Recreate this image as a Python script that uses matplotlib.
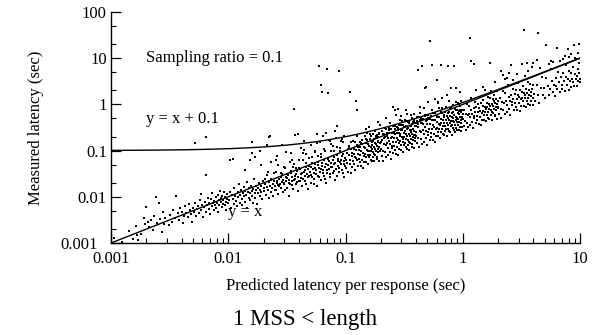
"""Measured vs predicted latency scatter (sampling ratio 0.1, 1 MSS < length)."""

import matplotlib
matplotlib.use("Agg")
import matplotlib.pyplot as plt
import matplotlib.transforms as mtransforms
import numpy as np
from matplotlib.ticker import LogLocator, NullFormatter, FixedLocator, FixedFormatter

plt.rcParams["font.family"] = ["Liberation Serif", "DejaVu Serif"]

# (predicted, measured) latency in seconds
pts_1ms = [
    (0.00107, 0.00126), (0.00125, 0.00105), (0.00141, 0.00184), (0.00155, 0.0012),
    (0.00163, 0.0023), (0.00167, 0.0015), (0.00171, 0.00118), (0.0018, 0.0016),
    (0.0019, 0.0034), (0.00195, 0.0026), (0.002, 0.0061), (0.00208, 0.0029),
    (0.00212, 0.0022), (0.0022, 0.0031), (0.00228, 0.0019), (0.00234, 0.0038),
    (0.00242, 0.0100), (0.00248, 0.0027), (0.00256, 0.0072), (0.00262, 0.0033),
    (0.00274, 0.00176), (0.0028, 0.0047), (0.00285, 0.0026), (0.0029, 0.0035),
    (0.0031, 0.0024), (0.0032, 0.0041), (0.0033, 0.0029), (0.0034, 0.0052),
    (0.0035, 0.0034), (0.0036, 0.0104), (0.0037, 0.0044), (0.0038, 0.0031),
    (0.0039, 0.0057), (0.004, 0.0048), (0.0041, 0.0027), (0.0042, 0.0039),
    (0.0043, 0.0062), (0.0044, 0.0045), (0.0045, 0.0036), (0.0046, 0.0069),
    (0.0047, 0.0051), (0.0048, 0.0042), (0.0049, 0.0028), (0.005, 0.0058),
    (0.0051, 0.0047), (0.0052, 0.0075), (0.0053, 0.0039), (0.0054, 0.0054),
    (0.0055, 0.0063), (0.0056, 0.0044), (0.0057, 0.0085), (0.0058, 0.0114),
    (0.0059, 0.0052), (0.006, 0.0068), (0.0061, 0.0036), (0.0062, 0.0059),
    (0.0063, 0.0079), (0.0064, 0.0048), (0.0065, 0.029), (0.0066, 0.0066),
    (0.0067, 0.0095), (0.0068, 0.0055), (0.0069, 0.0072), (0.007, 0.0042),
    (0.0071, 0.0088), (0.0072, 0.0063), (0.0073, 0.012), (0.0074, 0.0075),
    (0.0075, 0.0053), (0.0076, 0.0081), (0.0077, 0.0068), (0.0078, 0.0098),
    (0.0079, 0.0058), (0.008, 0.0074), (0.0081, 0.011), (0.0082, 0.0047),
    (0.0083, 0.0086), (0.0084, 0.0066), (0.0085, 0.0135), (0.0086, 0.0077),
    (0.0087, 0.0092), (0.0088, 0.0059), (0.0089, 0.0105), (0.009, 0.0071),
    (0.0091, 0.0084), (0.0092, 0.0125), (0.0093, 0.0065), (0.0094, 0.0098),
    (0.0095, 0.0079), (0.0096, 0.0052), (0.0097, 0.0115), (0.0098, 0.0088),
    (0.0099, 0.0074),
]

pts_10ms = [
    (0.0102, 0.0085), (0.0104, 0.013), (0.0106, 0.0058), (0.0108, 0.0112),
    (0.011, 0.0091), (0.0112, 0.0071), (0.0113, 0.0155), (0.0115, 0.0104),
    (0.0117, 0.0082), (0.0118, 0.0062), (0.012, 0.0125), (0.0122, 0.0097),
    (0.0123, 0.0188), (0.0125, 0.0074), (0.0127, 0.011), (0.0128, 0.0142),
    (0.013, 0.0088), (0.0132, 0.0068), (0.0133, 0.0121), (0.0135, 0.0165),
    (0.0137, 0.0102), (0.0138, 0.0079), (0.014, 0.0135), (0.0142, 0.0112),
    (0.0144, 0.0058), (0.0145, 0.0205), (0.0147, 0.0125), (0.0149, 0.0094),
    (0.015, 0.0152), (0.0152, 0.0118), (0.0154, 0.0085), (0.0156, 0.0174),
    (0.0158, 0.0132), (0.016, 0.0105), (0.0162, 0.0075), (0.0164, 0.0145),
    (0.0166, 0.0245), (0.0168, 0.0122), (0.017, 0.0095), (0.0172, 0.0168),
    (0.0174, 0.0138), (0.0176, 0.0071), (0.0178, 0.0155), (0.018, 0.0118),
    (0.0182, 0.0198), (0.0185, 0.0142), (0.0187, 0.0102), (0.019, 0.0175),
    (0.0192, 0.0128), (0.0195, 0.0088), (0.0197, 0.0225), (0.02, 0.0158),
    (0.0203, 0.0135), (0.0206, 0.0185), (0.0209, 0.0112), (0.0212, 0.0295),
    (0.0215, 0.0165), (0.0218, 0.0142), (0.0221, 0.0092), (0.0224, 0.0205),
    (0.0227, 0.0172), (0.023, 0.0125), (0.0233, 0.0235), (0.0236, 0.0155),
    (0.024, 0.0188), (0.0243, 0.0105), (0.0246, 0.0215), (0.025, 0.0168),
    (0.0253, 0.0138), (0.0257, 0.0345), (0.026, 0.0198), (0.0264, 0.0178),
    (0.0268, 0.0115), (0.0271, 0.0245), (0.0275, 0.0192), (0.0279, 0.0152),
    (0.0283, 0.0275), (0.0287, 0.0208), (0.0291, 0.0128), (0.0295, 0.0232),
    (0.03, 0.0185), (0.0304, 0.0412), (0.0308, 0.0262), (0.0313, 0.0215),
    (0.0317, 0.0158), (0.0322, 0.0298), (0.0327, 0.0235), (0.0332, 0.0105),
    (0.0337, 0.0192), (0.0342, 0.0335), (0.0347, 0.0262), (0.0352, 0.0215),
    (0.0357, 0.0148), (0.0362, 0.0525), (0.0368, 0.0288), (0.0373, 0.0242),
    (0.0379, 0.0185), (0.0385, 0.0365), (0.039, 0.0272), (0.0396, 0.0135),
    (0.0402, 0.0225), (0.0408, 0.0395), (0.0414, 0.0305), (0.0421, 0.0258),
    (0.0427, 0.0168), (0.0433, 0.0612), (0.044, 0.0338), (0.0447, 0.0285),
    (0.0453, 0.0215), (0.046, 0.0432), (0.0467, 0.0318), (0.0474, 0.0145),
    (0.0481, 0.0262), (0.0489, 0.0475), (0.0496, 0.0352), (0.0504, 0.0298),
    (0.0511, 0.0198), (0.0519, 0.0725), (0.0527, 0.0392), (0.0535, 0.0325),
    (0.0543, 0.0242), (0.0551, 0.0512), (0.056, 0.0372), (0.0568, 0.0172),
    (0.0577, 0.0285), (0.0586, 0.0565), (0.0595, 0.0415), (0.0604, 0.0345),
    (0.0613, 0.0232), (0.0622, 0.0845), (0.0632, 0.0465), (0.0641, 0.0378),
    (0.0651, 0.0285), (0.0661, 0.0615), (0.0671, 0.0432), (0.0681, 0.0198),
    (0.0692, 0.0335), (0.0702, 0.0672), (0.0713, 0.0495), (0.0724, 0.0405),
    (0.0735, 0.0268), (0.0746, 0.0985), (0.0757, 0.0545), (0.0769, 0.0442),
    (0.0781, 0.0325), (0.0793, 0.0735), (0.0805, 0.0515), (0.0817, 0.0232),
    (0.0829, 0.0392), (0.0842, 0.0805), (0.0855, 0.0585), (0.0868, 0.0475),
    (0.0881, 0.0345), (0.0895, 0.112), (0.0908, 0.0635), (0.0922, 0.0512),
    (0.0936, 0.0375), (0.0951, 0.0865), (0.0965, 0.0605), (0.098, 0.0272),
    (0.0995, 0.0455),
    (0.0251, 0.0142), (0.0262, 0.0225), (0.0273, 0.0168), (0.0285, 0.0305),
    (0.0296, 0.0198), (0.0306, 0.0142), (0.0318, 0.0255), (0.0329, 0.0195),
    (0.034, 0.0365), (0.0351, 0.0182), (0.0363, 0.0235), (0.0375, 0.0312),
    (0.0387, 0.0205), (0.0399, 0.0425), (0.0411, 0.0218), (0.0424, 0.0335),
    (0.0437, 0.0245), (0.045, 0.0372), (0.0463, 0.0185), (0.0477, 0.0395),
    (0.0491, 0.0282), (0.0506, 0.0452), (0.052, 0.0265), (0.0535, 0.0188),
    (0.055, 0.0425), (0.0565, 0.0315), (0.0581, 0.0498), (0.0597, 0.0268),
    (0.0614, 0.0405), (0.063, 0.0545), (0.0647, 0.0325), (0.0665, 0.0242),
    (0.0683, 0.0525), (0.0701, 0.0372), (0.0719, 0.0605), (0.0738, 0.0315),
    (0.0757, 0.0442), (0.0777, 0.0628), (0.0797, 0.0365), (0.0817, 0.0535),
    (0.0838, 0.0288), (0.0859, 0.0652), (0.088, 0.0418), (0.0902, 0.0565),
    (0.0924, 0.0782), (0.0946, 0.0325), (0.0969, 0.0512), (0.0992, 0.0688),
    (0.0205, 0.0246), (0.0218, 0.0349), (0.0232, 0.0244), (0.0247, 0.0333),
    (0.0263, 0.05), (0.0279, 0.0321), (0.0297, 0.0431), (0.0316, 0.0316),
    (0.0336, 0.0571), (0.0357, 0.0446), (0.038, 0.0418), (0.0404, 0.0626),
    (0.043, 0.0903), (0.0457, 0.0548), (0.0486, 0.068), (0.0517, 0.0543),
    (0.055, 0.0963), (0.0585, 0.0761), (0.0622, 0.0715), (0.0662, 0.0993),
    (0.0704, 0.0704), (0.0748, 0.138), (0.0796, 0.0995), (0.0847, 0.119),
    (0.09, 0.099), (0.0957, 0.153), (0.0256, 0.0614), (0.0345, 0.0897),
    (0.0445, 0.102), (0.0575, 0.144), (0.0735, 0.162), (0.0935, 0.178),
    (0.026, 0.075), (0.031, 0.095), (0.035, 0.062), (0.042, 0.115),
    (0.046, 0.085), (0.051, 0.13), (0.055, 0.095), (0.061, 0.15),
    (0.066, 0.11), (0.072, 0.17), (0.078, 0.125), (0.083, 0.19),
    (0.092, 0.16), (0.098, 0.21), (0.044, 0.165), (0.068, 0.235),
    (0.081, 0.27), (0.029, 0.13), (0.019, 0.048), (0.023, 0.058),
    (0.014, 0.038), (0.017, 0.072),
]

pts_100ms = [
    (0.1003, 0.0622), (0.1014, 0.0416), (0.1027, 0.0904), (0.1035, 0.0549),
    (0.1049, 0.0346), (0.1061, 0.0796), (0.107, 0.123), (0.1084, 0.0509),
    (0.1095, 0.0635), (0.1106, 0.0321), (0.1118, 0.106), (0.1129, 0.0768),
    (0.1142, 0.0434), (0.1153, 0.06), (0.1165, 0.163), (0.1176, 0.0847),
    (0.1189, 0.0523), (0.12, 0.0732), (0.1211, 0.0375), (0.1224, 0.102),
    (0.1236, 0.0692), (0.1247, 0.0611), (0.1259, 0.132), (0.127, 0.0838),
    (0.1283, 0.0462), (0.1295, 0.102), (0.1306, 0.0666), (0.1318, 0.0567),
    (0.133, 0.122), (0.1341, 0.0791), (0.1353, 0.046), (0.1366, 0.097),
    (0.1377, 0.172), (0.1388, 0.0638), (0.14, 0.0896), (0.1412, 0.0424),
    (0.1424, 0.122), (0.1436, 0.0775), (0.1447, 0.0579), (0.1459, 0.112),
    (0.1471, 0.0838), (0.1483, 0.145), (0.1494, 0.0717), (0.1506, 0.0557),
    (0.1518, 0.105), (0.153, 0.245), (0.1541, 0.0801), (0.1553, 0.0978),
    (0.1565, 0.0501), (0.1577, 0.128), (0.1588, 0.0715), (0.16, 0.096),
    (0.1612, 0.177), (0.1624, 0.0812), (0.1636, 0.0638), (0.1647, 0.122),
    (0.1659, 0.0962), (0.1671, 0.0585), (0.1683, 0.151), (0.1694, 0.11),
    (0.1706, 0.0717), (0.1718, 0.0945), (0.173, 0.225), (0.1741, 0.122),
    (0.1753, 0.0824), (0.1765, 0.0582), (0.1777, 0.149), (0.1788, 0.109),
    (0.18, 0.0792), (0.1812, 0.138), (0.1824, 0.0967), (0.1836, 0.184),
    (0.1847, 0.0739), (0.1859, 0.125), (0.1871, 0.0674), (0.1883, 0.151),
    (0.1894, 0.108), (0.1906, 0.0934), (0.1918, 0.23), (0.193, 0.12),
    (0.1941, 0.0602), (0.1953, 0.143), (0.1965, 0.0983),
    (0.2012, 0.111), (0.2035, 0.0773), (0.2058, 0.167), (0.2081, 0.0978),
    (0.2103, 0.061), (0.2127, 0.14), (0.2149, 0.232), (0.2172, 0.0912),
    (0.2196, 0.13), (0.2218, 0.0732), (0.2241, 0.204), (0.2264, 0.143),
    (0.2287, 0.0823), (0.231, 0.116), (0.2333, 0.303), (0.2355, 0.165),
    (0.2379, 0.0952), (0.2402, 0.137), (0.2425, 0.0655), (0.2447, 0.191),
    (0.2471, 0.128), (0.2493, 0.112), (0.2516, 0.244), (0.254, 0.155),
    (0.2562, 0.0871), (0.2585, 0.191), (0.2608, 0.125), (0.2631, 0.103),
    (0.2654, 0.228), (0.2677, 0.15), (0.27, 0.0837), (0.2723, 0.185),
    (0.2746, 0.324), (0.2769, 0.119), (0.2792, 0.168), (0.2815, 0.0788),
    (0.2838, 0.236), (0.2861, 0.146), (0.2884, 0.107), (0.2907, 0.209),
    (0.293, 0.158), (0.2953, 0.275), (0.2976, 0.131), (0.2999, 0.105),
    (0.3022, 0.196), (0.3045, 0.442), (0.3068, 0.15), (0.3091, 0.179),
    (0.3114, 0.0934), (0.3137, 0.238), (0.316, 0.13), (0.3183, 0.197),
    (0.3206, 0.327), (0.3229, 0.149), (0.3252, 0.117), (0.3275, 0.229),
    (0.3298, 0.175), (0.3321, 0.106), (0.3344, 0.294), (0.3367, 0.202),
    (0.339, 0.132), (0.3413, 0.171), (0.3436, 0.419), (0.3459, 0.232),
    (0.3482, 0.15), (0.3505, 0.105), (0.3528, 0.282), (0.3551, 0.202),
    (0.3574, 0.147), (0.3597, 0.255), (0.362, 0.177), (0.3643, 0.346),
    (0.3666, 0.136), (0.3689, 0.232), (0.3712, 0.122), (0.3735, 0.288),
    (0.3758, 0.195), (0.3781, 0.17), (0.3804, 0.426), (0.3827, 0.222),
    (0.385, 0.112), (0.3873, 0.267), (0.3896, 0.183), (0.3919, 0.216),
    (0.3942, 0.158), (0.3965, 0.333), (0.3988, 0.247),
    (0.4025, 0.209), (0.4074, 0.147), (0.4126, 0.322), (0.4173, 0.188),
    (0.4224, 0.118), (0.4277, 0.269), (0.4326, 0.454), (0.4371, 0.175),
    (0.4425, 0.252), (0.4478, 0.139), (0.4523, 0.398), (0.4576, 0.275),
    (0.4624, 0.157), (0.4672, 0.224), (0.4727, 0.591), (0.4775, 0.325),
    (0.4821, 0.183), (0.4874, 0.268), (0.4928, 0.133), (0.4973, 0.373),
    (0.5022, 0.251), (0.5077, 0.218), (0.5126, 0.482), (0.5171, 0.3),
    (0.5224, 0.167), (0.5279, 0.375), (0.5323, 0.245), (0.5374, 0.199),
    (0.5428, 0.451), (0.5471, 0.295), (0.5525, 0.166), (0.5578, 0.363),
    (0.5622, 0.647), (0.5674, 0.233), (0.5729, 0.327), (0.5773, 0.156),
    (0.5825, 0.466), (0.5876, 0.288), (0.5921, 0.207), (0.5977, 0.412),
    (0.6024, 0.313), (0.6078, 0.547), (0.6123, 0.257), (0.6175, 0.204),
    (0.6229, 0.386), (0.6272, 0.847), (0.6326, 0.297), (0.6378, 0.357),
    (0.6421, 0.186), (0.6476, 0.473), (0.6527, 0.255), (0.6573, 0.388),
    (0.6624, 0.649), (0.6679, 0.294), (0.6722, 0.229), (0.6775, 0.454),
    (0.6828, 0.348), (0.6871, 0.213), (0.6925, 0.589), (0.6977, 0.405),
    (0.7023, 0.26), (0.7074, 0.34), (0.7129, 0.841), (0.7172, 0.459),
    (0.7226, 0.296), (0.7278, 0.204), (0.7324, 0.564), (0.7371, 0.405),
    (0.7427, 0.29), (0.7475, 0.508), (0.7522, 0.354), (0.7578, 0.697),
    (0.7623, 0.267), (0.7676, 0.461), (0.7725, 0.247), (0.7772, 0.575),
    (0.7828, 0.391), (0.7874, 0.339), (0.7921, 0.855), (0.7979, 0.447),
    (0.8026, 0.217), (0.8072, 0.533), (0.8127, 0.366), (0.8174, 0.433),
    (0.8223, 0.312), (0.8276, 0.67), (0.8328, 0.5), (0.8371, 0.276),
    (0.8424, 0.59), (0.8477, 0.415), (0.8522, 0.852), (0.8575, 0.36),
    (0.8627, 0.25), (0.8673, 0.546), (0.8721, 0.471), (0.8778, 0.316),
    (0.8825, 0.759), (0.8871, 0.408), (0.8926, 0.518), (0.8974, 0.278),
    (0.9023, 0.65), (0.9077, 1.09), (0.9122, 0.365), (0.9178, 0.477),
    (0.9226, 0.277), (0.9271, 0.732), (0.9325, 0.41), (0.9376, 0.609),
    (0.9424, 0.33), (0.9472, 0.54), (0.9528, 0.915), (0.9575, 0.46),
    (0.9621, 0.269), (0.9678, 0.668), (0.9726, 0.399), (0.9773, 0.538),
    (0.9824, 0.324), (0.9877, 0.751), (0.9922, 0.496), (0.9975, 0.618),
    (0.105, 0.110), (0.112, 0.151), (0.118, 0.109), (0.126, 0.202),
    (0.133, 0.157), (0.139, 0.136), (0.146, 0.212), (0.152, 0.167),
    (0.159, 0.318), (0.165, 0.206), (0.172, 0.163), (0.178, 0.267),
    (0.185, 0.213), (0.191, 0.195), (0.198, 0.356), (0.205, 0.267),
    (0.212, 0.191), (0.219, 0.307), (0.226, 0.244), (0.233, 0.284),
    (0.24, 0.396), (0.247, 0.240), (0.255, 0.339), (0.262, 0.293),
    (0.27, 0.594), (0.278, 0.278), (0.286, 0.366), (0.294, 0.456),
    (0.302, 0.281), (0.31, 0.363), (0.319, 0.453), (0.328, 0.348),
    (0.337, 0.623), (0.346, 0.429), (0.356, 0.342), (0.366, 0.505),
    (0.376, 0.414), (0.386, 0.618), (0.397, 0.397), (0.408, 0.530),
    (0.419, 0.385), (0.431, 0.647), (0.443, 0.509), (0.455, 0.473),
    (0.468, 0.819), (0.481, 0.577), (0.494, 0.469), (0.508, 0.587),
    (0.522, 0.479), (0.536, 0.570), (0.551, 0.759), (0.566, 0.471),
    (0.582, 0.643), (0.598, 0.559), (0.614, 1.10), (0.631, 0.536),
    (0.649, 0.695), (0.667, 0.850), (0.685, 0.547), (0.704, 0.694),
    (0.723, 0.860), (0.743, 0.663), (0.764, 1.17), (0.785, 0.801),
    (0.806, 0.665), (0.828, 0.950), (0.851, 0.796), (0.874, 1.15),
    (0.898, 0.763), (0.923, 1.00), (0.948, 0.749), (0.974, 1.20),
    (0.1025, 0.0871), (0.108, 0.121), (0.1145, 0.0893), (0.121, 0.157),
    (0.1285, 0.122), (0.136, 0.143), (0.1435, 0.118), (0.149, 0.179),
    (0.1555, 0.140), (0.162, 0.227), (0.168, 0.134), (0.175, 0.175),
    (0.181, 0.208), (0.188, 0.165), (0.194, 0.243), (0.2005, 0.152),
    (0.208, 0.225), (0.215, 0.200), (0.222, 0.300), (0.229, 0.192),
    (0.236, 0.241), (0.244, 0.288), (0.251, 0.198), (0.259, 0.251),
    (0.266, 0.340), (0.274, 0.236), (0.282, 0.310), (0.29, 0.232),
    (0.298, 0.364), (0.306, 0.282), (0.315, 0.328), (0.323, 0.268),
    (0.332, 0.438), (0.341, 0.307), (0.351, 0.400), (0.361, 0.282),
    (0.371, 0.371), (0.381, 0.457), (0.392, 0.341), (0.403, 0.427),
    (0.414, 0.331), (0.426, 0.537), (0.438, 0.399), (0.45, 0.495),
    (0.462, 0.379), (0.475, 0.551), (0.488, 0.429), (0.501, 0.501),
    (0.15, 0.3), (0.19, 0.42), (0.22, 0.5), (0.33, 0.75), (0.36, 0.6),
    (0.43, 0.9), (0.51, 1.1), (0.58, 1.3), (0.67, 1.4), (0.74, 1.6),
    (0.95, 1.9), (0.3, 0.55), (0.27, 0.58), (0.62, 1.05),
]

pts_1s = [
    (1.006, 0.483), (1.018, 0.336), (1.031, 0.742), (1.042, 0.438),
    (1.055, 0.274), (1.066, 0.618), (1.078, 1.02), (1.091, 0.404),
    (1.102, 0.584), (1.114, 0.323), (1.127, 0.924), (1.138, 0.626),
    (1.15, 0.357), (1.163, 0.523), (1.174, 1.41), (1.186, 0.747),
    (1.199, 0.42), (1.21, 0.605), (1.222, 0.306), (1.235, 0.852),
    (1.246, 0.573), (1.258, 0.503), (1.271, 1.12), (1.282, 0.679),
    (1.294, 0.388), (1.307, 0.863), (1.318, 0.567), (1.33, 0.452),
    (1.343, 1.03), (1.354, 0.677), (1.366, 0.382), (1.379, 0.827),
    (1.39, 1.46), (1.402, 0.533), (1.415, 0.736), (1.426, 0.357),
    (1.438, 1.06), (1.451, 0.653), (1.462, 0.468), (1.474, 0.943),
    (1.487, 0.714), (1.498, 1.26), (1.51, 0.589), (1.523, 0.457),
    (1.534, 0.874), (1.546, 2.01), (1.559, 0.686), (1.57, 0.801),
    (1.582, 0.427), (1.595, 1.08), (1.606, 0.578), (1.618, 0.89),
    (1.631, 1.48), (1.642, 0.673), (1.654, 0.513), (1.667, 1.03),
    (1.678, 0.789), (1.69, 0.473), (1.703, 1.35), (1.714, 0.926),
    (1.726, 0.587), (1.739, 0.765), (1.75, 1.93), (1.762, 1.04),
    (1.775, 0.675), (1.786, 0.464), (1.798, 1.28), (1.811, 0.906),
    (1.822, 0.656), (1.834, 1.16), (1.847, 0.794), (1.858, 1.6),
    (1.87, 0.598), (1.883, 1.05), (1.894, 0.549), (1.906, 1.32),
    (1.919, 0.883), (1.93, 0.772), (1.942, 1.94), (1.955, 1.02),
    (1.966, 0.492), (1.978, 1.21), (1.991, 0.836),
    (2.012, 0.885), (2.043, 0.613), (2.071, 1.37), (2.102, 0.799),
    (2.133, 0.512), (2.161, 1.15), (2.192, 1.93), (2.223, 0.756),
    (2.251, 1.08), (2.282, 0.616), (2.313, 1.73), (2.341, 1.17),
    (2.372, 0.688), (2.403, 0.985), (2.431, 2.67), (2.462, 1.43),
    (2.493, 0.798), (2.521, 1.16), (2.552, 0.587), (2.583, 1.63),
    (2.611, 1.1), (2.642, 0.951), (2.673, 2.17), (2.701, 1.32),
    (2.732, 0.765), (2.763, 1.66), (2.791, 1.09), (2.822, 0.875),
    (2.853, 2.03), (2.881, 1.33), (2.912, 0.757), (2.943, 1.62),
    (2.971, 2.88), (3.002, 1.05), (3.033, 1.43), (3.061, 0.735),
    (3.092, 2.1), (3.123, 1.28), (3.151, 0.914), (3.182, 1.88),
    (3.213, 1.41), (3.241, 2.53), (3.272, 1.18), (3.303, 0.925),
    (3.331, 1.73), (3.362, 4.03), (3.393, 1.36), (3.421, 1.61),
    (3.452, 0.863), (3.483, 2.16), (3.511, 1.16), (3.542, 1.77),
    (3.573, 3.0), (3.601, 1.37), (3.632, 1.02), (3.663, 2.09),
    (3.691, 1.59), (3.722, 0.968), (3.753, 2.74), (3.781, 1.85),
    (3.812, 1.18), (3.843, 1.54), (3.871, 3.87), (3.902, 2.11),
    (3.933, 1.38), (3.961, 0.99), (3.992, 2.59),
    (4.05, 1.7), (4.16, 1.21), (4.27, 2.69), (4.38, 1.58),
    (4.49, 1.08), (4.61, 2.31), (4.72, 4.01), (4.83, 1.59),
    (4.94, 2.27), (5.06, 1.37), (5.17, 3.72), (5.28, 2.48),
    (5.39, 1.62), (5.51, 2.15), (5.62, 5.9), (5.73, 3.15),
    (5.84, 1.81), (5.96, 2.62), (6.07, 1.52), (6.18, 3.71),
    (6.29, 2.52), (6.41, 2.18), (6.52, 5.09), (6.63, 3.12),
    (6.74, 1.89), (6.86, 3.91), (6.97, 2.58), (7.08, 2.12),
    (7.19, 4.89), (7.31, 3.22), (7.42, 1.93), (7.53, 3.92),
    (7.64, 7.03), (7.76, 2.64), (7.87, 3.54), (7.98, 2.0),
    (8.09, 5.26), (8.21, 3.2), (8.32, 2.41), (8.43, 4.72),
    (8.54, 3.59), (8.66, 6.5), (8.77, 3.07), (8.88, 2.49),
    (8.99, 4.5), (9.11, 10.0), (9.22, 3.5), (9.33, 4.2),
    (9.44, 2.45), (9.56, 5.74), (9.67, 3.19), (9.78, 4.69),
    (9.86, 7.89), (9.92, 3.57), (9.97, 2.99),
    (1.5, 2.4), (1.9, 3.1), (2.3, 3.6), (2.9, 4.5), (3.6, 5.2),
    (4.6, 6.1), (5.4, 7.5), (6.7, 8.8), (7.5, 11.0), (8.4, 12.5),
    (9.6, 13.0), (1.3, 2.0), (2.5, 4.8), (3.9, 6.6), (5.9, 8.2),
    (7.2, 9.6), (8.1, 10.5), (9.3, 9.8),
]

outliers = [
    (0.0052, 0.147), (0.0064, 0.2), (0.0104, 0.064), (0.0109, 0.067),
    (0.0153, 0.062), (0.0158, 0.087), (0.0158, 0.155), (0.0186, 0.1),
    (0.0215, 0.135), (0.0224, 0.2), (0.0228, 0.21), (0.036, 0.81),
    (0.037, 0.22), (0.039, 0.23), (0.057, 0.23), (0.064, 0.21),
    (0.085, 0.34), (0.0593, 6.65), (0.0698, 5.8), (0.088, 5.25),
    (0.0613, 2.59), (0.0625, 1.85), (0.071, 1.8), (0.109, 1.83),
    (0.123, 1.17), (0.126, 0.77), (0.254, 0.87), (0.265, 0.74),
    (0.28, 0.78), (0.417, 5.46), (0.445, 6.9), (0.55, 7.2),
    (0.65, 7.2), (0.75, 6.9), (0.53, 24.0), (0.49, 2.4),
    (0.6, 3.3), (0.48, 2.3), (0.8, 2.3), (0.87, 2.3),
    (1.16, 27.7), (3.3, 40.0), (4.4, 35.0), (5.1, 19.5),
    (6.3, 16.4), (7.9, 15.6), (8.9, 19.0), (9.8, 20.0),
    (1.17, 8.6), (1.24, 7.6), (1.7, 7.8), (2.6, 7.3),
    (3.2, 7.6), (3.5, 7.8), (4.0, 8.0), (4.3, 9.3),
    (5.7, 8.7), (0.84, 6.9), (2.1, 5.2), (2.2, 4.4),
    (2.4, 3.7), (2.7, 3.3),
]

x_ticks = [0.001, 0.01, 0.1, 1, 10]
x_tick_labels = ["0.001", "0.01", "0.1", "1", "10"]
y_ticks = [0.001, 0.01, 0.1, 1, 10, 100]
y_tick_labels = ["0.001", "0.01", "0.1", "1", "10", "100"]
offset = 0.1  # the y = x + 0.1 curve

all_pts = pts_1ms + pts_10ms + pts_100ms + pts_1s + outliers
pred = np.array([p[0] for p in all_pts])
meas = np.array([p[1] for p in all_pts])

fig = plt.figure(figsize=(6.08, 3.35), dpi=100)
ax = fig.add_axes([0.1826, 0.2746, 0.7714, 0.6896])

ax.scatter(pred, meas, s=1.8, c="black", marker="s", linewidths=0)

ref = np.logspace(-3, 1, 300)
ax.plot(ref, ref, color="black", lw=1.0)
ax.plot(ref, ref + offset, color="black", lw=1.0)

ax.set_xscale("log")
ax.set_yscale("log")
ax.set_xlim(0.001, 10)
ax.set_ylim(0.001, 100)

ax.xaxis.set_major_locator(FixedLocator(x_ticks))
ax.xaxis.set_major_formatter(FixedFormatter(x_tick_labels))
ax.yaxis.set_major_locator(FixedLocator(y_ticks))
ax.yaxis.set_major_formatter(FixedFormatter(y_tick_labels))
ax.xaxis.set_minor_locator(LogLocator(base=10, subs=np.arange(2, 10)))
ax.yaxis.set_minor_locator(LogLocator(base=10, subs=[2, 5]))
ax.xaxis.set_minor_formatter(NullFormatter())
ax.yaxis.set_minor_formatter(NullFormatter())

for side in ["top", "right"]:
    ax.spines[side].set_visible(False)
for side in ["left", "bottom"]:
    ax.spines[side].set_linewidth(1.0)

ax.tick_params(which="major", direction="in", length=7, width=0.9, labelsize=12)
ax.tick_params(axis="x", which="major", pad=6)
ax.tick_params(axis="y", which="major", pad=3)
ax.tick_params(which="minor", direction="in", length=3.5, width=0.8)

# the lowest y label sits further left, clear of the x-axis "0.001"
fig.canvas.draw()
low_label = ax.yaxis.get_majorticklabels()[0]
low_label.set_transform(low_label.get_transform()
                        + mtransforms.ScaledTranslation(-9 / 100, 0, fig.dpi_scale_trans))

ax.set_xlabel("Predicted latency per response (sec)", fontsize=12, labelpad=8)
ax.set_ylabel("Measured latency (sec)", fontsize=12, labelpad=12)

ax.text(0.00198, 10, "Sampling ratio = 0.1", fontsize=12, va="center", ha="left")
ax.text(0.002, 0.48, "y = x + 0.1", fontsize=12, va="center", ha="left")
ax.text(0.0099, 0.0047, "y = x", fontsize=12, va="center", ha="left")

fig.text(0.502, 0.047, "1 MSS < length", fontsize=16.5, ha="center", va="center")

fig.savefig("out.png", dpi=100, facecolor="white")
